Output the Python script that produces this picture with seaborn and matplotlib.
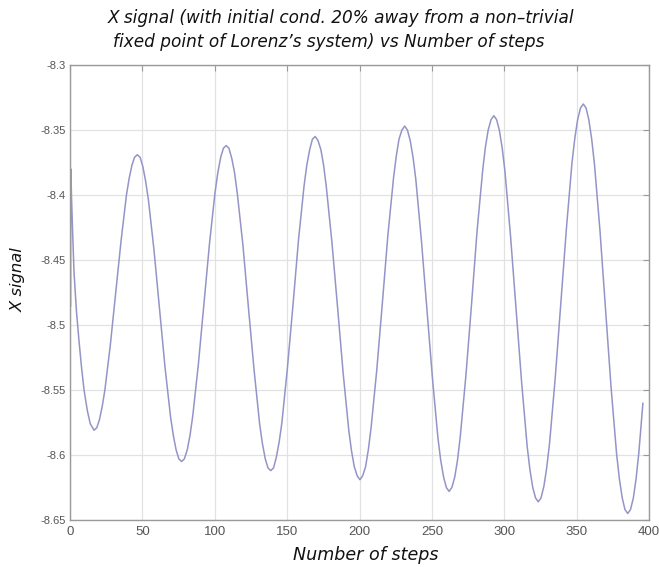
import numpy as np
import pandas as pd
import matplotlib
matplotlib.use("Agg")
import matplotlib.pyplot as plt
import seaborn as sns

# Step index and X-signal readings of the Lorenz trajectory
steps = [
    0.0, 0.3, 0.6, 1.0, 2.0, 2.8, 4.5, 6.2, 8.0, 9.7, 12.0, 14.0, 16.6,
    18.5, 20.3, 22.2, 24.1, 27.8, 31.6, 35.3, 39.0, 40.9, 42.8, 44.6, 46.5,
    48.4, 50.3, 52.2, 54.2, 58.0, 61.8, 65.6, 69.5, 71.4, 73.3, 75.2, 77.1,
    79.0, 81.0, 82.9, 84.8, 88.7, 92.5, 96.4, 100.2, 102.1, 104.1, 106.0, 107.9,
    109.8, 111.8, 113.7, 115.6, 119.5, 123.3, 127.2, 131.0, 132.9, 134.9, 136.8, 138.7,
    140.6, 142.5, 144.5, 146.4, 150.2, 154.1, 157.9, 161.7, 163.6, 165.6, 167.5, 169.4,
    171.3, 173.3, 175.2, 177.1, 181.0, 184.9, 188.7, 192.6, 194.5, 196.4, 198.4, 200.3,
    202.2, 204.2, 206.1, 208.0, 211.9, 215.8, 219.6, 223.5, 225.4, 227.3, 229.3, 231.2,
    233.1, 235.0, 237.0, 238.9, 242.7, 246.6, 250.4, 254.2, 256.1, 258.1, 260.0, 261.9,
    263.8, 265.8, 267.7, 269.6, 273.5, 277.4, 281.2, 285.1, 287.0, 288.9, 290.9, 292.8,
    294.7, 296.6, 298.6, 300.5, 304.3, 308.2, 312.0, 315.8, 317.7, 319.7, 321.6, 323.5,
    325.4, 327.4, 329.3, 331.3, 335.2, 339.1, 343.0, 346.8, 348.8, 350.7, 352.7, 354.6,
    356.5, 358.4, 360.4, 362.3, 366.1, 370.0, 373.8, 377.6, 379.5, 381.5, 383.4, 385.3,
    387.2, 389.2, 391.1, 393.0, 395.8,
]
x_signal = [
    -8.375, -8.486, -8.380, -8.400, -8.435, -8.460, -8.490, -8.512, -8.533, -8.550, -8.566, -8.576, -8.581,
    -8.579, -8.573, -8.563, -8.550, -8.516, -8.475, -8.435, -8.400, -8.387, -8.377, -8.371, -8.369,
    -8.371, -8.378, -8.389, -8.404, -8.442, -8.487, -8.532, -8.571, -8.585, -8.596, -8.603, -8.605,
    -8.603, -8.596, -8.585, -8.570, -8.530, -8.484, -8.437, -8.398, -8.383, -8.371, -8.364, -8.362,
    -8.364, -8.372, -8.383, -8.399, -8.439, -8.487, -8.535, -8.576, -8.591, -8.603, -8.610, -8.612,
    -8.610, -8.602, -8.590, -8.575, -8.533, -8.484, -8.434, -8.393, -8.377, -8.365, -8.357, -8.355,
    -8.358, -8.365, -8.377, -8.394, -8.437, -8.487, -8.537, -8.581, -8.597, -8.609, -8.616, -8.619,
    -8.616, -8.609, -8.596, -8.579, -8.535, -8.483, -8.431, -8.387, -8.370, -8.357, -8.350, -8.347,
    -8.350, -8.358, -8.371, -8.388, -8.434, -8.488, -8.541, -8.587, -8.604, -8.617, -8.625, -8.628,
    -8.625, -8.617, -8.604, -8.586, -8.539, -8.484, -8.428, -8.381, -8.363, -8.350, -8.342, -8.339,
    -8.342, -8.350, -8.364, -8.382, -8.431, -8.488, -8.544, -8.593, -8.611, -8.625, -8.633, -8.636,
    -8.633, -8.624, -8.610, -8.591, -8.541, -8.483, -8.425, -8.375, -8.356, -8.342, -8.333, -8.330,
    -8.333, -8.342, -8.357, -8.376, -8.427, -8.488, -8.548, -8.599, -8.618, -8.633, -8.642, -8.645,
    -8.642, -8.633, -8.618, -8.598, -8.560,
]

x_ticks = [0, 50, 100, 150, 200, 250, 300, 350, 400]
y_ticks = [-8.65, -8.6, -8.55, -8.5, -8.45, -8.4, -8.35, -8.3]
y_tick_labels = ["-8.65", "-8.6", "-8.55", "-8.5", "-8.45", "-8.4", "-8.35", "-8.3"]

title_lines = [
    "X signal (with initial cond. 20% away from a non\u2013trivial",
    "fixed point of Lorenz\u2019s system) vs Number of steps",
]
x_label = "Number of steps"
y_label = "X signal"

df = pd.DataFrame({"step": steps, "x": x_signal})

sns.set_style("white")
plt.rcParams["font.family"] = ["Liberation Sans", "DejaVu Sans"]

W, H = 659, 567
fig = plt.figure(figsize=(W / 100, H / 100), dpi=100)
ax = fig.add_axes([70 / W, 1 - 520 / H, 579 / W, 455 / H])

sns.lineplot(data=df, x="step", y="x", ax=ax, color="#9494c8", linewidth=1.1,
             estimator=None, sort=False)

ax.set_xlim(0, 400)
ax.set_ylim(-8.65, -8.3)
ax.set_xticks(x_ticks)
ax.set_yticks(y_ticks)
ax.set_yticklabels(y_tick_labels)

ax.grid(True, color="#e2e2e2", linewidth=0.9, linestyle="-")
ax.set_axisbelow(True)
for s in ax.spines.values():
    s.set_visible(True)
    s.set_color("#9a9a9a")
    s.set_linewidth(1.0)

ax.tick_params(axis="both", direction="in", length=4, color="#9a9a9a",
               top=True, right=True, labelcolor="#555555")
ax.tick_params(axis="x", labelsize=9.5, pad=4)
ax.tick_params(axis="y", labelsize=8, pad=3)

label_font = dict(family="DejaVu Sans", style="oblique", color="#111111")

ax.set_xlabel("")
ax.set_ylabel("")
fig.text(366 / W, 1 - 560 / H, x_label, ha="center", va="baseline", fontsize=12.6, **label_font)
fig.text(18 / W, 1 - 280 / H, y_label, ha="center", va="center", rotation=90, fontsize=11.8, **label_font)

# two-line heading, lines start near the same left edge
fig.text(108 / W, 1 - 23 / H, title_lines[0], ha="left", va="baseline", fontsize=12.2, **label_font)
fig.text(113 / W, 1 - 47 / H, title_lines[1], ha="left", va="baseline", fontsize=12.2, **label_font)

fig.savefig("out.png", dpi=100, facecolor="white")
